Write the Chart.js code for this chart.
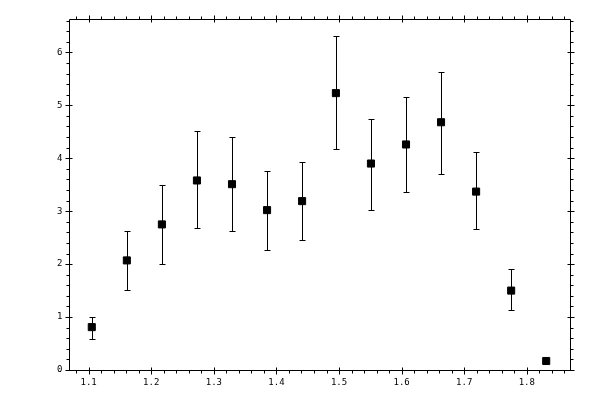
<!DOCTYPE html>
<html>
<head>
<meta charset="utf-8">
<script src="https://cdn.jsdelivr.net/npm/chart.js@4/dist/chart.umd.min.js"></script>
<style>
  html, body { margin: 0; padding: 0; background: #fff; }
  #wrap { width: 600px; height: 400px; }
</style>
</head>
<body>
<div id="wrap"><canvas id="plot" width="600" height="400"></canvas></div>
<script>
// values
const xValues = [1.105, 1.161, 1.217, 1.273, 1.329, 1.385, 1.441, 1.495, 1.551, 1.607, 1.663, 1.719, 1.775, 1.831];
const yValues = [0.81, 2.07, 2.75, 3.58, 3.51, 3.02, 3.19, 5.23, 3.90, 4.26, 4.68, 3.37, 1.50, 0.17];
const yLow    = [0.58, 1.52, 2.01, 2.68, 2.62, 2.26, 2.45, 4.17, 3.03, 3.36, 3.71, 2.66, 1.13, 0.17];
const yHigh   = [1.01, 2.62, 3.49, 4.51, 4.40, 3.76, 3.92, 6.30, 4.75, 5.15, 5.62, 4.11, 1.90, 0.17];

const xTicks = [1.1, 1.2, 1.3, 1.4, 1.5, 1.6, 1.7, 1.8];
const yTicks = [0, 1, 2, 3, 4, 5, 6];
const xMinorStep = 0.02;
const yMinorStep = 0.2;

const xRange = [1.0686, 1.869];
const yRange = [0, 6.63];

const points = xValues.map((x, i) => ({ x: x, y: yValues[i] }));

// error bars drawn through the scales
const errorBars = {
  id: 'errorBars',
  afterDatasetsDraw(chart) {
    const ctx = chart.ctx;
    const xs = chart.scales.x, ys = chart.scales.y;
    ctx.save();
    ctx.strokeStyle = '#000';
    ctx.lineWidth = 1;
    xValues.forEach((x, i) => {
      if (yHigh[i] - yLow[i] < 0.01) return;
      const px = Math.round(xs.getPixelForValue(x)) + 0.5;
      const top = Math.round(ys.getPixelForValue(yHigh[i])) + 0.5;
      const bot = Math.round(ys.getPixelForValue(yLow[i])) + 0.5;
      ctx.beginPath();
      ctx.moveTo(px, top); ctx.lineTo(px, bot);
      ctx.moveTo(px - 3, top); ctx.lineTo(px + 3, top);
      ctx.moveTo(px - 3, bot); ctx.lineTo(px + 3, bot);
      ctx.stroke();
    });
    ctx.restore();
  }
};

// box frame with ticks on all four sides
const frame = {
  id: 'frame',
  afterDraw(chart) {
    const ctx = chart.ctx;
    const a = chart.chartArea;
    const xs = chart.scales.x, ys = chart.scales.y;
    const L = Math.round(a.left) + 0.5, R = Math.round(a.right) + 0.5;
    const T = Math.round(a.top) + 0.5, B = Math.round(a.bottom) + 0.5;
    ctx.save();
    ctx.strokeStyle = '#000';
    ctx.lineWidth = 1;
    ctx.beginPath();
    ctx.rect(L, T, R - L, B - T);

    // minor ticks
    for (let v = Math.ceil(xRange[0] / xMinorStep) * xMinorStep; v <= xRange[1]; v += xMinorStep) {
      const px = Math.round(xs.getPixelForValue(v)) + 0.5;
      ctx.moveTo(px, B); ctx.lineTo(px, B + 3);
      ctx.moveTo(px, T); ctx.lineTo(px, T - 3);
    }
    for (let v = yRange[0]; v <= yRange[1] + 1e-9; v += yMinorStep) {
      const py = Math.round(ys.getPixelForValue(v)) + 0.5;
      ctx.moveTo(L, py); ctx.lineTo(L - 3, py);
      ctx.moveTo(R, py); ctx.lineTo(R + 3, py);
    }
    // major ticks
    xTicks.forEach(v => {
      const px = Math.round(xs.getPixelForValue(v)) + 0.5;
      ctx.moveTo(px, B - 3); ctx.lineTo(px, B + 4);
      ctx.moveTo(px, T + 3); ctx.lineTo(px, T - 4);
    });
    yTicks.forEach(v => {
      const py = Math.round(ys.getPixelForValue(v)) + 0.5;
      ctx.moveTo(L + 3, py); ctx.lineTo(L - 4, py);
      ctx.moveTo(R - 3, py); ctx.lineTo(R + 4, py);
    });
    ctx.stroke();

    ctx.fillStyle = '#000';
    ctx.font = '9px "DejaVu Sans Mono"';
    ctx.textAlign = 'center';
    ctx.textBaseline = 'middle';
    xTicks.forEach(v => {
      ctx.fillText(v.toFixed(1), xs.getPixelForValue(v), B + 12);
    });
    ctx.textAlign = 'right';
    yTicks.forEach(v => {
      ctx.fillText(String(v), L - 7, ys.getPixelForValue(v));
    });
    ctx.restore();
  }
};

new Chart(document.getElementById('plot'), {
  type: 'scatter',
  data: {
    datasets: [{
      data: points,
      pointStyle: 'rect',
      pointRadius: 5,
      pointBackgroundColor: '#000',
      pointBorderColor: '#000',
      pointBorderWidth: 1
    }]
  },
  options: {
    responsive: false,
    animation: false,
    devicePixelRatio: 1,
    layout: { padding: { left: 69, top: 19, right: 30, bottom: 30 } },
    plugins: { legend: { display: false }, tooltip: { enabled: false } },
    scales: {
      x: { type: 'linear', min: xRange[0], max: xRange[1], display: false },
      y: { type: 'linear', min: yRange[0], max: yRange[1], display: false }
    }
  },
  plugins: [errorBars, frame]
});
</script>
</body>
</html>
